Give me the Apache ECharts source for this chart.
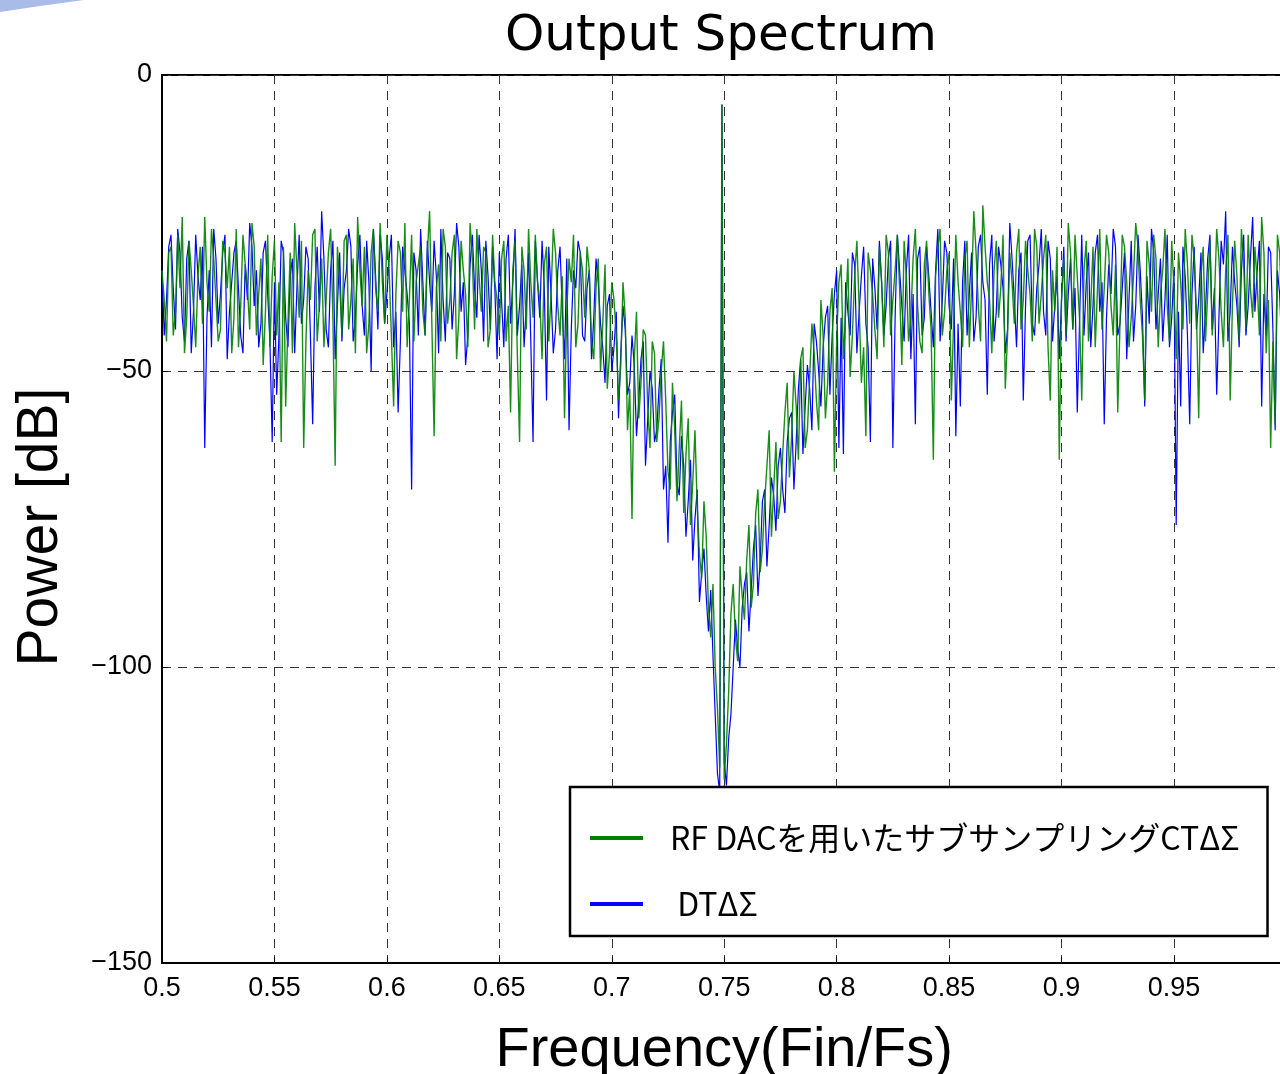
<!DOCTYPE html>
<html>
<head>
<meta charset="utf-8">
<title>Output Spectrum</title>
<script src="https://cdn.jsdelivr.net/npm/echarts@6/dist/echarts.min.js"></script>
<style>
  html, body { margin: 0; padding: 0; background: #fff; }
  #main { width: 1280px; height: 1074px; }
</style>
</head>
<body>
<div id="main"></div>
<script>
// FFT bins: 0.500 .. 0.999 (Fin/Fs), one every 0.001
var binStart = 0.5;
var binStep = 0.001;
var binCount = 500;

// RF DAC sub-sampling CT delta-sigma (green), dB per bin
var ctPower = [
    -33, -38, -45, -30, -29, -44, -40, -27, -36, -24,
    -47, -41, -28, -33, -39, -46, -34, -29, -42, -24,
    -35, -40, -26, -31, -38, -45, -43, -28, -30, -36,
    -29, -47, -41, -26, -46, -39, -27, -32, -36, -43,
    -25, -29, -44, -37, -31, -49, -40, -27, -46, -34,
    -28, -44, -35, -62, -29, -56, -42, -30, -47, -25,
    -33, -41, -28, -63, -45, -33, -38, -27, -26, -45,
    -39, -31, -46, -38, -30, -26, -41, -66, -29, -35,
    -44, -28, -27, -43, -38, -31, -47, -24, -33, -39,
    -29, -47, -42, -30, -26, -36, -40, -25, -35, -42,
    -27, -33, -44, -56, -37, -28, -30, -40, -25, -46,
    -38, -27, -45, -35, -32, -29, -40, -44, -30, -23,
    -42, -61, -36, -32, -45, -26, -29, -42, -38, -30,
    -27, -48, -41, -28, -33, -37, -46, -25, -31, -43,
    -26, -34, -40, -29, -30, -46, -43, -27, -35, -38,
    -44, -31, -28, -45, -39, -57, -33, -28, -47, -62,
    -29, -33, -43, -26, -35, -41, -27, -35, -38, -48,
    -32, -29, -45, -37, -26, -30, -39, -44, -34, -58,
    -40, -31, -35, -27, -46, -42, -30, -33, -41, -29,
    -33, -45, -48, -36, -31, -50, -42, -32, -53, -47,
    -35, -38, -44, -55, -49, -35, -41, -60, -53, -75,
    -48, -40, -58, -52, -43, -44, -56, -63, -45, -47,
    -62, -58, -50, -45, -55, -67, -70, -52, -60, -72,
    -63, -55, -74, -64, -58, -76, -69, -60, -73, -81,
    -85, -72, -78, -90, -95, -86, -100, -107, -117, -5,
    -119, -113, -104, -91, -86, -95, -99, -83, -88, -92,
    -82, -76, -90, -86, -74, -70, -84, -80, -72, -66,
    -60, -78, -70, -62, -75, -72, -64, -57, -52, -68,
    -61, -50, -56, -65, -48, -46, -63, -60, -51, -42,
    -47, -55, -60, -38, -44, -58, -52, -40, -36, -67,
    -45, -35, -32, -48, -40, -31, -51, -44, -34, -28,
    -39, -52, -46, -61, -30, -33, -37, -43, -48, -29,
    -35, -46, -27, -30, -44, -38, -33, -27, -36, -49,
    -28, -34, -45, -41, -31, -26, -39, -45, -47, -32,
    -28, -37, -43, -65, -34, -29, -26, -44, -40, -33,
    -30, -55, -42, -27, -35, -40, -46, -31, -28, -46,
    -36, -23, -30, -39, -45, -22, -29, -35, -38, -47,
    -33, -28, -41, -36, -27, -53, -44, -30, -35, -42,
    -30, -26, -43, -38, -28, -33, -37, -45, -26, -29,
    -42, -37, -31, -27, -46, -55, -33, -40, -29, -65,
    -38, -31, -44, -25, -30, -43, -27, -34, -41, -55,
    -33, -28, -45, -39, -29, -46, -36, -26, -43, -36,
    -27, -30, -39, -44, -32, -57, -42, -27, -29, -35,
    -46, -41, -34, -25, -29, -38, -44, -55, -28, -32,
    -40, -27, -31, -46, -37, -33, -26, -39, -45, -28,
    -36, -48, -30, -35, -43, -26, -32, -42, -27, -31,
    -40, -58, -34, -29, -45, -37, -28, -44, -38, -26,
    -31, -40, -46, -33, -27, -55, -39, -28, -34, -45,
    -26, -32, -43, -27, -36, -41, -29, -35, -44, -24,
    -30, -47, -38, -63, -45, -59, -27, -30, -41, -38
];

// DT delta-sigma (blue), dB per bin
var dtPower = [
    -33, -44, -38, -29, -27, -36, -43, -26, -30, -41,
    -45, -31, -28, -47, -40, -27, -34, -38, -29, -63,
    -41, -33, -46, -26, -31, -42, -37, -30, -27, -48,
    -40, -35, -30, -28, -36, -44, -47, -32, -38, -25,
    -29, -39, -33, -46, -42, -30, -28, -37, -45, -62,
    -35, -54, -44, -28, -30, -41, -46, -34, -31, -47,
    -36, -27, -42, -38, -29, -31, -44, -59, -36, -29,
    -40, -23, -31, -43, -46, -33, -28, -48, -39, -30,
    -45, -36, -33, -26, -29, -45, -41, -32, -27, -39,
    -44, -28, -35, -50, -26, -34, -43, -27, -31, -42,
    -37, -31, -27, -46, -40, -57, -45, -29, -33, -37,
    -42, -70, -30, -33, -44, -26, -35, -44, -28, -35,
    -40, -28, -34, -47, -26, -38, -45, -30, -31, -43,
    -37, -25, -29, -40, -35, -49, -44, -32, -27, -36,
    -41, -27, -33, -45, -28, -34, -43, -29, -36, -48,
    -30, -38, -46, -31, -27, -42, -35, -26, -44, -39,
    -32, -46, -39, -30, -45, -62, -28, -35, -41, -28,
    -36, -55, -29, -37, -47, -43, -33, -29, -40, -48,
    -31, -60, -43, -33, -36, -28, -30, -44, -45, -36,
    -33, -48, -41, -31, -35, -42, -46, -52, -39, -37,
    -50, -46, -40, -58, -47, -39, -43, -54, -52, -44,
    -49, -61, -55, -48, -45, -66, -58, -50, -53, -62,
    -60, -53, -48, -70, -66, -79, -62, -57, -54, -69,
    -71, -61, -66, -78, -72, -65, -82, -75, -70, -89,
    -84, -80, -88, -94, -87, -98, -108, -118, -121, -5,
    -116, -120, -112, -108, -100, -92, -97, -100, -90, -86,
    -84, -94, -87, -80, -76, -88, -82, -72, -70, -83,
    -76, -68, -71, -77, -66, -63, -70, -74, -62, -58,
    -57, -70, -62, -53, -48, -64, -56, -49, -53, -60,
    -42, -45, -50, -56, -46, -41, -39, -54, -44, -37,
    -33, -63, -41, -64, -35, -40, -44, -30, -32, -47,
    -40, -34, -29, -42, -46, -62, -31, -36, -43, -28,
    -35, -44, -39, -31, -28, -63, -41, -27, -33, -39,
    -45, -33, -27, -48, -37, -59, -31, -29, -44, -41,
    -29, -34, -40, -46, -33, -26, -45, -38, -28, -30,
    -39, -43, -31, -61, -42, -56, -35, -28, -44, -37,
    -30, -45, -41, -29, -27, -35, -38, -54, -32, -27,
    -45, -40, -29, -32, -36, -47, -43, -25, -31, -38,
    -46, -33, -30, -55, -39, -28, -27, -42, -44, -36,
    -32, -26, -40, -44, -28, -31, -45, -39, -34, -48,
    -38, -29, -45, -37, -31, -43, -36, -57, -42, -27,
    -44, -35, -30, -46, -39, -30, -27, -40, -35, -59,
    -41, -32, -37, -26, -29, -44, -42, -36, -30, -48,
    -38, -28, -45, -39, -27, -33, -41, -56, -34, -42,
    -26, -30, -43, -37, -31, -45, -38, -27, -46, -41,
    -33, -76, -40, -56, -29, -34, -44, -59, -37, -29,
    -43, -38, -30, -47, -40, -31, -27, -43, -36, -54,
    -41, -28, -32, -23, -45, -40, -29, -35, -39, -46,
    -33, -27, -44, -39, -31, -24, -40, -33, -28, -56,
    -37, -44, -29, -30, -43, -60, -33, -37, -47, -42
];

var xTicks = [0.5, 0.55, 0.6, 0.65, 0.7, 0.75, 0.8, 0.85, 0.9, 0.95, 1.0];
var yTicks = [0, -50, -100, -150];

var ctName = 'RF DACを用いたサブサンプリングCTΔΣ';
var dtName = ' DTΔΣ';

var freq = [];
for (var i = 0; i < binCount; i++) {
    freq.push(+(binStart + binStep * i).toFixed(3));
}
function pairs(vals) {
    var out = [];
    for (var i = 0; i < vals.length; i++) {
        out.push([freq[i], vals[i]]);
    }
    return out;
}

var tickFont = 'Liberation Sans, Arial, sans-serif';

var chart = echarts.init(document.getElementById('main'), null, {renderer: 'canvas'});
chart.setOption({
    animation: false,
    backgroundColor: '#ffffff',
    title: {
        text: 'Output Spectrum',
        left: 500,
        top: 7,
        textStyle: {
            fontFamily: 'DejaVu Sans, sans-serif',
            fontSize: 50,
            fontWeight: 'normal',
            color: '#000'
        }
    },
    graphic: [{
        type: 'polygon',
        shape: {points: [[0, 0], [84, 0], [40, 6], [0, 12]]},
        style: {fill: '#a9bbe9'}
    }],
    grid: {
        left: 162,
        top: 75,
        width: 1124.4,
        height: 888,
        containLabel: false,
        outerBoundsMode: 'none',
        show: true,
        borderColor: '#000',
        borderWidth: 2,
        backgroundColor: 'transparent'
    },
    legend: {
        orient: 'vertical',
        left: 570,
        top: 787,
        data: [ctName, dtName],
        icon: 'rect',
        itemWidth: 53,
        itemHeight: 4,
        itemGap: 34,
        padding: [35, 28, 16, 20],
        borderColor: '#000',
        borderWidth: 2.5,
        backgroundColor: '#fff',
        textStyle: {
            fontFamily: 'Noto Sans CJK JP, sans-serif',
            fontSize: 32,
            color: '#000',
            padding: [0, 0, 0, 22]
        }
    },
    xAxis: {
        type: 'value',
        min: 0.5,
        max: 1.0,
        interval: 0.05,
        name: 'Frequency(Fin/Fs)',
        nameLocation: 'middle',
        nameGap: 60,
        nameTextStyle: {fontFamily: tickFont, fontSize: 56, color: '#000'},
        axisLine: {show: true, onZero: false, lineStyle: {color: '#000', width: 2}},
        axisTick: {show: true, inside: true, length: 6, lineStyle: {color: '#000'}},
        axisLabel: {
            margin: 12,
            fontFamily: tickFont,
            fontSize: 27,
            color: '#000',
            formatter: function (v) {
                return xTicks.indexOf(+v.toFixed(2)) >= 0 ? String(+v.toFixed(2)) : '';
            }
        },
        splitLine: {show: true, lineStyle: {color: '#333', width: 1, type: [9, 7]}}
    },
    yAxis: {
        type: 'value',
        min: -150,
        max: 0,
        interval: 50,
        name: 'Power [dB]',
        nameLocation: 'middle',
        nameGap: 92,
        nameTextStyle: {fontFamily: tickFont, fontSize: 57, color: '#000', padding: [0, 16, 0, 0]},
        axisLine: {show: true, onZero: false, lineStyle: {color: '#000', width: 2}},
        axisTick: {show: true, inside: true, length: 6, lineStyle: {color: '#000'}},
        axisLabel: {
            margin: 10,
            fontFamily: tickFont,
            fontSize: 27,
            color: '#000',
            formatter: function (v) {
                return yTicks.indexOf(v) >= 0 ? String(v).replace('-', '\u2212') : '';
            }
        },
        splitLine: {show: true, lineStyle: {color: '#333', width: 1, type: [9, 7]}}
    },
    series: [{
        name: dtName,
        type: 'line',
        data: pairs(dtPower),
        showSymbol: false,
        symbol: 'none',
        color: '#0000ff',
        lineStyle: {color: '#0000ff', width: 1.2},
        z: 2
    }, {
        name: ctName,
        type: 'line',
        data: pairs(ctPower),
        showSymbol: false,
        symbol: 'none',
        color: '#008000',
        lineStyle: {color: '#008000', width: 1.4, opacity: 0.9},
        z: 3
    }]
});
</script>
</body>
</html>
